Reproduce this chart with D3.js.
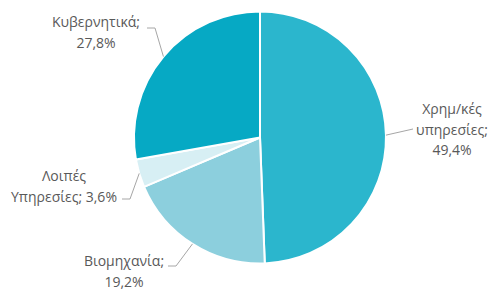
<!DOCTYPE html>
<html>
<head>
<meta charset="utf-8">
<script src="https://cdn.jsdelivr.net/npm/d3@7"></script>
<style>
  body { margin: 0; background: #fff; }
  text { font-family: "Open Sans", sans-serif; font-size: 14px; fill: #595959; }
</style>
</head>
<body>
<div id="chart"></div>
<script>
const width = 494, height = 291;

// data
const sectors = ["Χρημ/κές υπηρεσίες", "Βιομηχανία", "Λοιπές Υπηρεσίες", "Κυβερνητικά"];
const shares = [49.4, 19.2, 3.6, 27.8];
const labelLines = [
    ["Χρημ/κές", "υπηρεσίες;", "49,4%"],
    ["Βιομηχανία;", "19,2%"],
    ["Λοιπές", "Υπηρεσίες; 3,6%"],
    ["Κυβερνητικά;", "27,8%"]
];
const colors = ["#2bb6cd", "#8ccfdd", "#d7eff4", "#06a9c4"];

// label layout: text centre x, first baseline y, leader elbow end x/y
const labelPos = [
    { x: 452, y: 114, lx: 413, ly: 129 },
    { x: 124, y: 266, lx: 168, ly: 266 },
    { x: 64, y: 181, lx: 122, ly: 199 },
    { x: 96, y: 27, lx: 147, ly: 28 }
];

const cx = 260, cy = 137.5, r = 126;

const svg = d3.select("#chart").append("svg")
    .attr("width", width).attr("height", height);

const g = svg.append("g").attr("transform", `translate(${cx},${cy})`);

const pie = d3.pie().sort(null).value(d => d);
const arcs = pie(shares);
const arc = d3.arc().innerRadius(0).outerRadius(r);
const edge = d3.arc().innerRadius(r).outerRadius(r);

g.selectAll("path.slice")
    .data(arcs)
    .enter().append("path")
    .attr("class", "slice")
    .attr("d", arc)
    .attr("fill", (d, i) => colors[i])
    .attr("stroke", "#fff")
    .attr("stroke-width", 2);

// leader lines
svg.selectAll("polyline.leader")
    .data(arcs)
    .enter().append("polyline")
    .attr("class", "leader")
    .attr("fill", "none")
    .attr("stroke", "#a6a6a6")
    .attr("stroke-width", 1)
    .attr("points", (d, i) => {
        const [ex, ey] = edge.centroid(d);
        const p = labelPos[i];
        const dir = ex + cx > p.lx ? 1 : -1;
        const elbowX = i === 0 ? p.lx : p.lx + dir * 8;
        return [[ex + cx, ey + cy], [elbowX, p.ly], [p.lx, p.ly]].map(q => q.join(",")).join(" ");
    });

// labels
const labels = svg.selectAll("text.label")
    .data(arcs)
    .enter().append("text")
    .attr("class", "label")
    .attr("text-anchor", "middle")
    .attr("x", (d, i) => labelPos[i].x)
    .attr("y", (d, i) => labelPos[i].y);

labels.each(function (d, i) {
    d3.select(this).selectAll("tspan")
        .data(labelLines[i])
        .enter().append("tspan")
        .attr("x", labelPos[i].x)
        .attr("dy", (t, j) => j === 0 ? 0 : 20.5)
        .text(t => t);
});
</script>
</body>
</html>
